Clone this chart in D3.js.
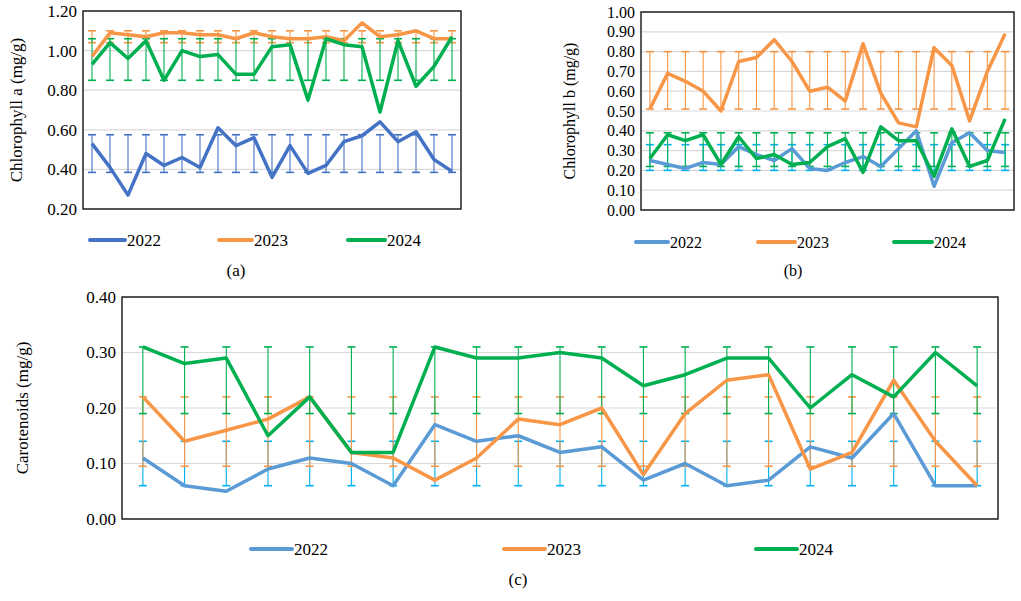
<!DOCTYPE html><html><head><meta charset="utf-8"><script src="https://cdn.jsdelivr.net/npm/d3@7"></script>
<style>body{margin:0;background:#fff}</style></head><body>
<svg id="c" width="1021" height="601"></svg>
<script>
const FONT="'Liberation Serif','Times New Roman','DejaVu Serif',serif";
const years=["2022","2023","2024"];
const chlA_2022=[0.53,0.41,0.27,0.48,0.42,0.46,0.41,0.61,0.52,0.56,0.36,0.52,0.38,0.42,0.54,0.57,0.64,0.54,0.59,0.45,0.39];
const chlA_2023=[0.97,1.09,1.08,1.07,1.09,1.09,1.08,1.08,1.06,1.09,1.07,1.06,1.06,1.07,1.05,1.14,1.07,1.08,1.10,1.06,1.06];
const chlA_2024=[0.93,1.04,0.96,1.05,0.85,1.00,0.97,0.98,0.88,0.88,1.02,1.03,0.75,1.06,1.03,1.02,0.69,1.05,0.82,0.92,1.07];
const chlA_err=[[0.385,0.575],[1.04,1.10],[0.85,1.06]];
const chlB_2022=[0.25,0.23,0.21,0.24,0.23,0.32,0.28,0.25,0.31,0.21,0.20,0.24,0.27,0.22,0.31,0.40,0.12,0.34,0.39,0.30,0.29];
const chlB_2023=[0.51,0.69,0.65,0.60,0.50,0.75,0.77,0.86,0.75,0.60,0.62,0.55,0.84,0.59,0.44,0.42,0.82,0.73,0.45,0.70,0.89];
const chlB_2024=[0.26,0.38,0.35,0.38,0.23,0.37,0.26,0.28,0.23,0.24,0.32,0.36,0.19,0.42,0.35,0.35,0.17,0.41,0.22,0.25,0.46];
const chlB_err=[[0.20,0.33],[0.51,0.80],[0.22,0.39]];
const car_2022=[0.11,0.06,0.05,0.09,0.11,0.10,0.06,0.17,0.14,0.15,0.12,0.13,0.07,0.10,0.06,0.07,0.13,0.11,0.19,0.06,0.06];
const car_2023=[0.22,0.14,0.16,0.18,0.22,0.12,0.11,0.07,0.11,0.18,0.17,0.20,0.08,0.19,0.25,0.26,0.09,0.12,0.25,0.14,0.06];
const car_2024=[0.31,0.28,0.29,0.15,0.22,0.12,0.12,0.31,0.29,0.29,0.30,0.29,0.24,0.26,0.29,0.29,0.20,0.26,0.22,0.30,0.24];
const car_err=[[0.06,0.14],[0.095,0.22],[0.19,0.31]];
const ticksA=[0.2,0.4,0.6,0.8,1.0,1.2], ticksB=d3.range(0,1.001,0.1), ticksC=[0,0.1,0.2,0.3,0.4];

const svg=d3.select("#c");
function panel(o){
  const g=svg.append("g").attr("font-family",FONT);
  const n=o.series[0].length;
  const x=d3.scaleBand().domain(d3.range(n)).range([o.x0,o.x1]);
  const y=d3.scaleLinear().domain(o.dom).range([o.y1,o.y0]);
  g.selectAll(".gr").data(o.ticks).join("line").attr("x1",o.x0).attr("x2",o.x1)
   .attr("y1",d=>y(d)).attr("y2",d=>y(d)).attr("stroke","#d9d9d9").attr("stroke-width",1.2);
  g.append("g").attr("transform",`translate(${o.x0},0)`).call(d3.axisLeft(y).tickValues(o.ticks).tickFormat(d3.format(".2f")).tickSize(0).tickPadding(6))
   .attr("font-family",FONT).attr("font-size",o.fs)
   .call(a=>{a.select(".domain").remove();a.selectAll("text").attr("fill","#000");});
  o.series.forEach((s,i)=>{
    const [lo,hi]=o.err[i], c=o.ecol[i];
    const eg=g.append("g").attr("stroke",c).attr("stroke-width",1.1);
    d3.range(n).forEach(j=>{
      const cx=x(j)+x.bandwidth()/2;
      eg.append("line").attr("x1",cx).attr("x2",cx).attr("y1",y(lo)).attr("y2",y(hi));
      [lo,hi].forEach(v=>eg.append("line").attr("x1",cx-4).attr("x2",cx+4).attr("y1",y(v)).attr("y2",y(v)).attr("stroke-width",1.6));
    });
  });
  o.series.forEach((s,i)=>{
    g.append("path").datum(s).attr("fill","none").attr("stroke",o.col[i]).attr("stroke-width",o.lw)
     .attr("stroke-linejoin","round")
     .attr("d",d3.line().x((d,j)=>x(j)+x.bandwidth()/2).y(d=>y(d)));
  });
  g.append("rect").attr("x",o.x0).attr("y",o.y0).attr("width",o.x1-o.x0).attr("height",o.y1-o.y0).attr("fill","none").attr("stroke","#222").attr("stroke-width",1.5);
  g.append("text").attr("transform",`translate(${o.lx},${(o.y0+o.y1)/2}) rotate(-90)`).attr("text-anchor","middle").attr("font-size",o.fs).text(o.label);
  o.leg.forEach((L,i)=>{
    g.append("line").attr("x1",L[0]).attr("x2",L[1]).attr("y1",o.legY).attr("y2",o.legY).attr("stroke",o.col[i]).attr("stroke-width",o.lw+0.5).attr("stroke-linecap","round");
    g.append("text").attr("x",L[1]+2).attr("y",o.legY+6).attr("font-size",o.fs).text(years[i]);
  });
  g.append("text").attr("x",o.cap[0]).attr("y",o.cap[1]).attr("text-anchor","middle").attr("font-size",o.fs).text(o.capT);
}
panel({x0:83,x1:461,y0:11,y1:209,dom:[0.2,1.2],ticks:ticksA,series:[chlA_2022,chlA_2023,chlA_2024],err:chlA_err,
  col:["#4472c4","#f79646","#00b050"],ecol:["#4472c4","#f79646","#00b050"],lw:3.5,fs:17,lx:22,label:"Chlorophyll a (mg/g)",
  legY:240,leg:[[90,125],[219,252],[348,385]],cap:[236,276],capT:"(a)"});
panel({x0:641,x1:1014,y0:12,y1:210,dom:[0,1],ticks:ticksB,series:[chlB_2022,chlB_2023,chlB_2024],err:chlB_err,
  col:["#5b9bd5","#f79646","#00b050"],ecol:["#00b0f0","#f79646","#00b050"],lw:3.5,fs:16,lx:575,label:"Chlorophyll b (mg/g)",
  legY:242,leg:[[636,668],[758,795],[894,932]],cap:[793,276],capT:"(b)"});
panel({x0:122,x1:998,y0:297,y1:519,dom:[0,0.4],ticks:ticksC,series:[car_2022,car_2023,car_2024],err:car_err,
  col:["#5b9bd5","#f79646","#00b050"],ecol:["#00b0f0","#f79646","#00b050"],lw:3.5,fs:17,lx:28,label:"Carotenoids (mg/g)",
  legY:549,leg:[[251,292],[504,545],[756,797]],cap:[518,585],capT:"(c)"});
</script></body></html>
